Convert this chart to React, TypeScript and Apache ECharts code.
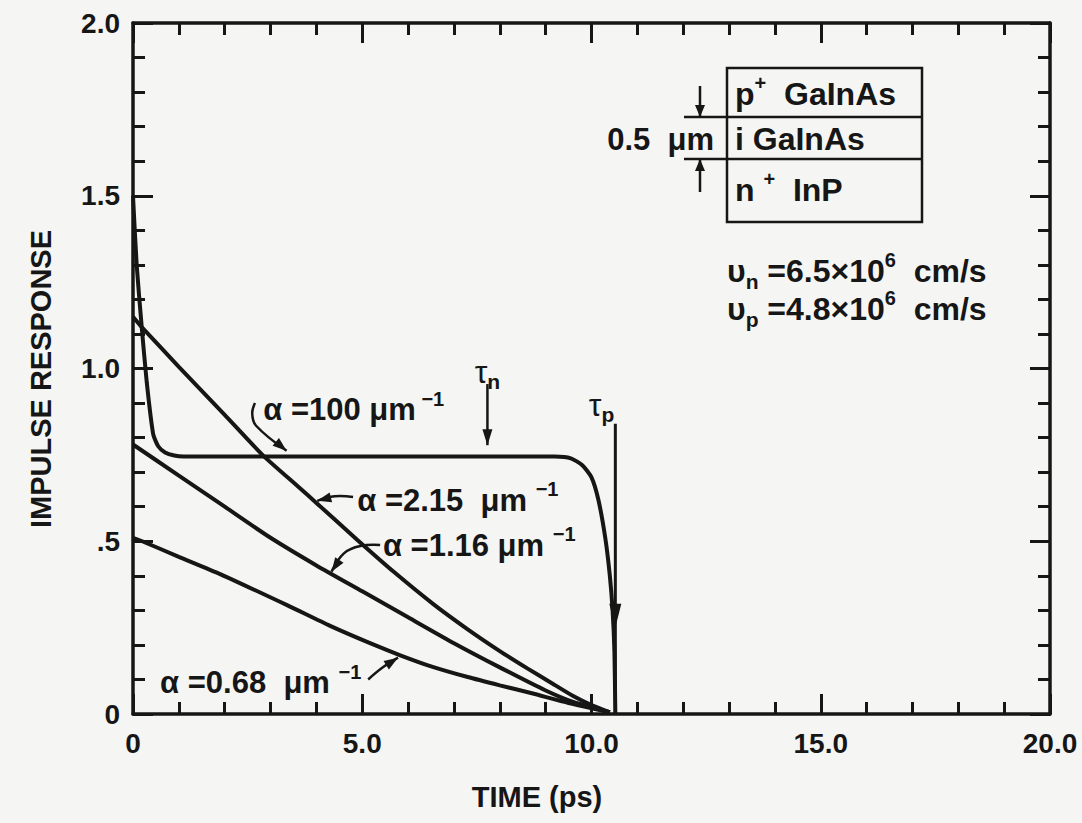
import React, { useEffect, useRef } from "react";
import * as echarts from "echarts";

// ---- axis ticks ----
const xTickValues = [0, 5, 10, 15, 20];
const xTickLabels = ["0", "5.0", "10.0", "15.0", "20.0"];
const yTickValues = [0, 0.5, 1.0, 1.5, 2.0];
const yTickLabels = ["0", ".5", "1.0", "1.5", "2.0"];
const xTitle = "TIME (ps)";
const yTitle = "IMPULSE RESPONSE";

// ---- curves: [time (ps), impulse response] ----
const alpha100 = [
  [0, 1.5], [0.08, 1.3], [0.19, 1.12], [0.3, 0.96], [0.44, 0.81], [0.55, 0.775],
  [0.7, 0.757], [0.9, 0.748], [1.1, 0.745], [5.0, 0.745], [9.2, 0.745], [9.55, 0.74],
  [9.8, 0.72], [10.0, 0.685], [10.15, 0.62], [10.3, 0.51], [10.4, 0.4], [10.46, 0.3],
  [10.5, 0.18], [10.52, 0.0],
];
const alpha215 = [
  [0, 1.15], [0.19, 1.12], [1.0, 1.005], [2.0, 0.866], [2.84, 0.748], [3.63, 0.655],
  [4.0, 0.611], [4.9, 0.503], [5.7, 0.41], [6.55, 0.318], [7.3, 0.245], [8.0, 0.182],
  [8.6, 0.132], [9.1, 0.092], [9.6, 0.052], [10.0, 0.026], [10.4, 0.005],
];
const alpha116 = [
  [0, 0.78], [1.0, 0.69], [2.0, 0.6], [3.0, 0.51], [4.0, 0.43], [5.0, 0.355],
  [6.0, 0.28], [7.0, 0.205], [8.0, 0.135], [9.0, 0.068], [9.6, 0.035], [10.4, 0.005],
];
const alpha068 = [
  [0, 0.51], [0.2, 0.5], [1.0, 0.455], [1.9, 0.405], [3.36, 0.315], [4.3, 0.255],
  [5.17, 0.205], [5.83, 0.17], [6.5, 0.138], [7.3, 0.107], [8.0, 0.083], [8.7, 0.06],
  [9.5, 0.032], [10.4, 0.005],
];
const seriesNames = ["α = 100 μm-1", "α = 2.15 μm-1", "α = 1.16 μm-1", "α = 0.68 μm-1"];

// transit times (ps)
const tauN = 7.73;
const tauP = 10.52;

export default function App() {
  const ref = useRef<HTMLDivElement>(null);

  useEffect(() => {
    document.body.style.margin = "0";
    const chart = echarts.init(ref.current!, null, { renderer: "svg" });
    const font = "'Liberation Sans', Arial, Helvetica, sans-serif";
    const ink = "#161616";

    const labelStyle = { color: ink, fontSize: 28, fontWeight: "bold", fontFamily: font };

    const xFmt = (v: number) => {
      const i = xTickValues.findIndex((t) => Math.abs(t - v) < 1e-6);
      return i >= 0 ? xTickLabels[i] : "";
    };
    const yFmt = (v: number) => {
      const i = yTickValues.findIndex((t) => Math.abs(t - v) < 1e-6);
      return i >= 0 ? yTickLabels[i] : "";
    };

    const mkAxis = (kind: "x" | "y", position: string, major: boolean, labels: boolean) => ({
      type: "value",
      min: 0,
      max: kind === "x" ? 20 : 2,
      interval: kind === "x" ? (major ? 5 : 1) : (major ? 0.5 : 0.1),
      position,
      axisLine: { show: !major, onZero: false, lineStyle: { color: ink, width: 3.5 } },
      axisTick: { show: true, inside: true, length: major ? 20 : 12, lineStyle: { color: ink, width: 3 } },
      splitLine: { show: false },
      axisLabel: labels
        ? { ...labelStyle, margin: kind === "x" ? 15 : 13, formatter: kind === "x" ? xFmt : yFmt }
        : { show: false },
    });

    const mkSeries = (name: string, data: number[][]) => ({
      name,
      type: "line",
      data,
      xAxisIndex: 0,
      yAxisIndex: 0,
      showSymbol: false,
      symbol: "none",
      smooth: 0.2,
      silent: true,
      lineStyle: { color: ink, width: 4 },
      z: 3,
    });

    chart.setOption({
      animation: false,
      backgroundColor: "#f5f5f3",
      grid: { left: 133, top: 23, width: 917, height: 691 },
      xAxis: [
        mkAxis("x", "bottom", false, true),
        mkAxis("x", "bottom", true, false),
        mkAxis("x", "top", false, false),
        mkAxis("x", "top", true, false),
      ],
      yAxis: [
        mkAxis("y", "left", false, true),
        mkAxis("y", "left", true, false),
        mkAxis("y", "right", false, false),
        mkAxis("y", "right", true, false),
      ],
      series: [
        mkSeries(seriesNames[0], alpha100),
        mkSeries(seriesNames[1], alpha215),
        mkSeries(seriesNames[2], alpha116),
        mkSeries(seriesNames[3], alpha068),
      ],
    });

    const P = (t: number, v: number) =>
      chart.convertToPixel({ xAxisIndex: 0, yAxisIndex: 0 }, [t, v]) as number[];

    const rich = {
      m: { fontSize: 31, fontWeight: "bold", fontFamily: font, color: ink, lineHeight: 32, verticalAlign: "middle" },
      s: { fontSize: 20, fontWeight: "bold", fontFamily: font, color: ink, lineHeight: 20, verticalAlign: "middle", padding: [0, 0, 22, 0] },
      b: { fontSize: 21, fontWeight: "bold", fontFamily: font, color: ink, lineHeight: 21, verticalAlign: "middle", padding: [20, 0, 0, 0] },
      t: { fontSize: 32, fontFamily: font, color: ink, lineHeight: 32, verticalAlign: "middle" },
      k: { fontSize: 32, fontWeight: "bold", fontFamily: font, color: ink, lineHeight: 32, verticalAlign: "middle" },
    };

    const text = (x: number, y: number, str: string, align = "left") => ({
      type: "text",
      x, y, silent: true,
      style: { text: str, rich, align, verticalAlign: "middle", fill: ink },
    });

    const arrowHead = (tip: number[], from: number[], len = 14, half = 5) => {
      const dx = tip[0] - from[0], dy = tip[1] - from[1];
      const d = Math.hypot(dx, dy) || 1;
      const ux = dx / d, uy = dy / d;
      const bx = tip[0] - ux * len, by = tip[1] - uy * len;
      return {
        type: "polygon", silent: true,
        shape: { points: [tip, [bx - uy * half, by + ux * half], [bx + uy * half, by - ux * half]] },
        style: { fill: ink },
      };
    };
    const leader = (pts: number[][]) => {
      const pp = pts.map(([t, v]) => P(t, v));
      return [
        { type: "polyline", silent: true, shape: { points: pp, smooth: 0.4 }, style: { stroke: ink, lineWidth: 2.5, fill: "none" } },
        arrowHead(pp[pp.length - 1], pp[pp.length - 2]),
      ];
    };

    const g: any[] = [];
    // axis titles
    g.push({
      type: "text", x: 537, y: 797, silent: true,
      style: { text: xTitle, fontSize: 29, fontWeight: "bold", fontFamily: font, fill: ink, align: "center", verticalAlign: "middle" },
    });
    g.push({
      type: "text", x: 41, y: 379, rotation: Math.PI / 2, silent: true,
      style: { text: yTitle, fontSize: 29, fontWeight: "bold", fontFamily: font, fill: ink, align: "center", verticalAlign: "middle" },
    });

    // curve labels
    let p = P(2.84, 0.88);
    g.push(text(p[0], p[1], "{m|α =100 μm}{s| −1}"));
    g.push(...leader([[2.66, 0.9], [2.6, 0.87], [2.68, 0.835], [3.35, 0.762]]));

    p = P(4.89, 0.619);
    g.push(text(p[0], p[1], "{m|α =2.15  μm }{s|−1}"));
    g.push(...leader([[4.8, 0.628], [4.4, 0.63], [4.02, 0.617]]));

    p = P(5.45, 0.489);
    g.push(text(p[0], p[1], "{m|α =1.16 μm }{s|−1}"));
    g.push(...leader([[5.39, 0.489], [4.96, 0.486], [4.6, 0.465], [4.33, 0.412]]));

    p = P(0.59, 0.09);
    g.push(text(p[0], p[1], "{m|α =0.68  μm }{s|−1}"));
    g.push(...leader([[5.13, 0.1], [5.45, 0.135], [5.78, 0.163]]));

    // tau_n
    p = P(tauN, 0.99);
    g.push(text(p[0], p[1], "{t|τ}{b|n}", "center"));
    const n1 = P(tauN, 0.955), n2 = P(tauN, 0.778);
    g.push({ type: "line", silent: true, shape: { x1: n1[0], y1: n1[1], x2: n2[0], y2: n2[1] }, style: { stroke: ink, lineWidth: 2.5 } });
    g.push(arrowHead(n2, n1, 16, 5));

    // tau_p
    p = P(tauP - 0.3, 0.895);
    g.push(text(p[0], p[1], "{t|τ}{b|p}", "center"));
    const q1 = P(tauP, 0.84), q2 = P(tauP, 0);
    g.push({ type: "line", silent: true, shape: { x1: q1[0], y1: q1[1], x2: q2[0], y2: q2[1] }, style: { stroke: ink, lineWidth: 3 } });
    const qa = P(tauP, 0.25);
    g.push(arrowHead(qa, [qa[0], qa[1] - 20], 24, 6));

    // inset: layer structure
    const bx = 727, by = 68, bw = 195, r1 = 117, r2 = 159, bb = 222;
    const seg = (x1: number, y1: number, x2: number, y2: number) => ({
      type: "line", silent: true, shape: { x1, y1, x2, y2 }, style: { stroke: ink, lineWidth: 2.5 },
    });
    g.push({ type: "rect", silent: true, shape: { x: bx, y: by, width: bw, height: bb - by }, style: { stroke: ink, lineWidth: 2.5, fill: "none" } });
    g.push(seg(bx, r1, bx + bw, r1));
    g.push(seg(bx, r2, bx + bw, r2));
    g.push(seg(684, r1, bx, r1));
    g.push(seg(684, r2, bx, r2));
    g.push(seg(700, 86, 700, r1));
    g.push(arrowHead([700, r1], [700, 86], 12, 5));
    g.push(seg(700, 192, 700, r2));
    g.push(arrowHead([700, r2], [700, 192], 12, 5));
    g.push(text(735, 94, "{k|p}{s|+}{k|  GaInAs}"));
    g.push(text(735, 139, "{k|i GaInAs}"));
    g.push(text(735, 190, "{k|n }{s|+}{k|  InP}"));
    g.push(text(714, 139, "{m|0.5  μm}", "right"));

    // drift velocities
    g.push(text(727, 271, "{k|υ}{b|n}{k| =6.5×10}{s|6}{k|  cm/s}"));
    g.push(text(727, 309, "{k|υ}{b|p}{k| =4.8×10}{s|6}{k|  cm/s}"));

    chart.setOption({ graphic: { elements: g } });

    return () => chart.dispose();
  }, []);

  return <div ref={ref} style={{ width: 1082, height: 823 }} />;
}
